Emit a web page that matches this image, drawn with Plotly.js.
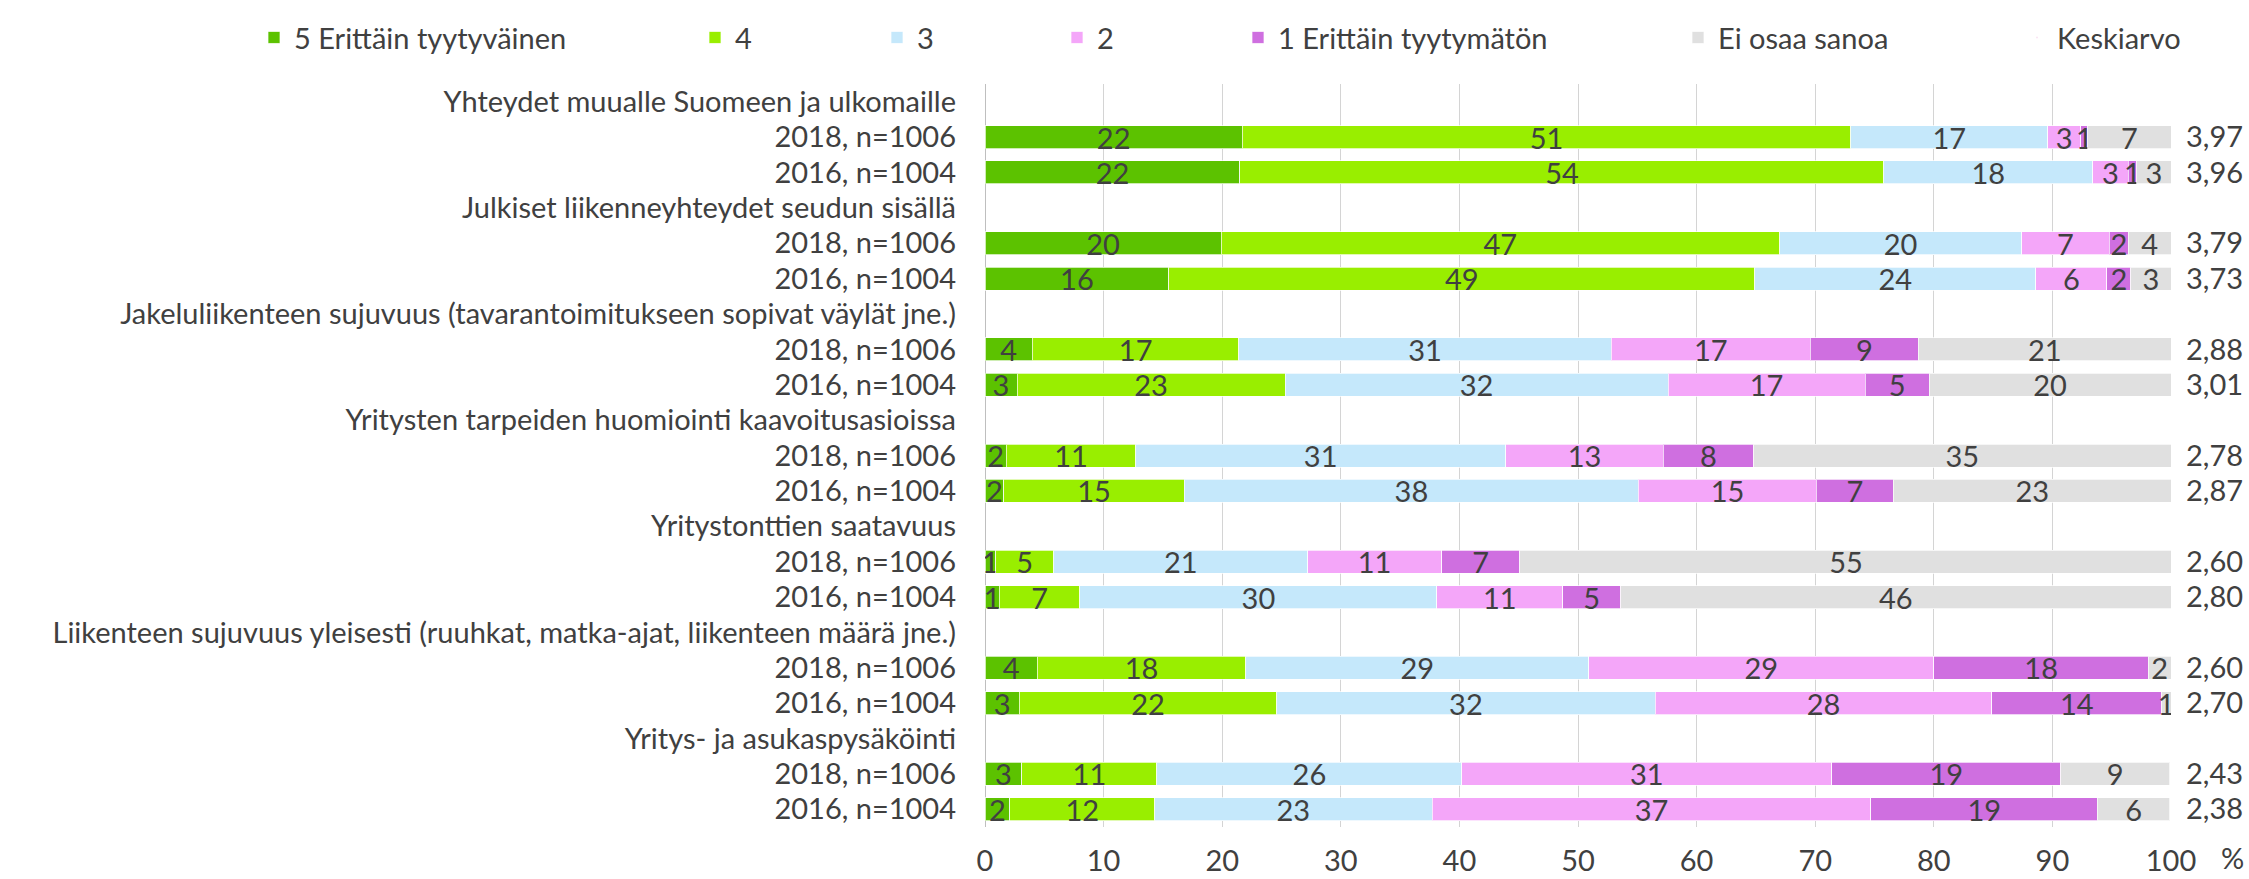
<!DOCTYPE html>
<html>
<head>
<meta charset="utf-8">
<script src="https://cdn.plot.ly/plotly-3.0.1.min.js"></script>
<style>html,body{margin:0;padding:0;background:#fff;}#chart{width:2249px;height:879px;}</style>
</head>
<body>
<div id="chart"></div>
<script>
// ---- data ----
const groups = [
  "Yhteydet muualle Suomeen ja ulkomaille",
  "Julkiset liikenneyhteydet seudun sisällä",
  "Jakeluliikenteen sujuvuus (tavarantoimitukseen sopivat väylät jne.)",
  "Yritysten tarpeiden huomiointi kaavoitusasioissa",
  "Yritystonttien saatavuus",
  "Liikenteen sujuvuus yleisesti (ruuhkat, matka-ajat, liikenteen määrä jne.)",
  "Yritys- ja asukaspysäköinti"
];
const years = ["2018, n=1006", "2016, n=1004"];
const seriesNames = ["5 Erittäin tyytyväinen", "4", "3", "2", "1 Erittäin tyytymätön", "Ei osaa sanoa"];
const meanName = "Keskiarvo";
// values in data-row order: group1 2018, group1 2016, group2 2018, ...
const v5  = [21.7, 21.5, 19.9, 15.5, 4.0, 2.7, 1.8, 1.6, 0.9, 1.2, 4.4, 2.9, 3.1, 2.1];
const v4  = [51.3, 54.3, 47.1, 49.4, 17.4, 22.6, 10.9, 15.2, 4.9, 6.8, 17.6, 21.7, 11.4, 12.2];
const v3  = [16.6, 17.6, 20.4, 23.7, 31.4, 32.3, 31.2, 38.3, 21.4, 30.1, 28.9, 31.9, 25.7, 23.4];
const v2  = [2.8, 3.0, 7.4, 6.0, 16.8, 16.6, 13.3, 15.0, 11.3, 10.6, 29.1, 28.4, 31.2, 37.0];
const v1  = [0.6, 0.7, 1.6, 2.0, 9.1, 5.4, 7.6, 6.5, 6.6, 4.9, 18.1, 14.3, 19.3, 19.1];
const vEos = [7.0, 2.9, 3.6, 3.4, 21.3, 20.4, 35.2, 23.4, 55.0, 46.4, 1.9, 0.8, 9.2, 6.1];
const means = [3.97, 3.96, 3.79, 3.73, 2.88, 3.01, 2.78, 2.87, 2.60, 2.80, 2.60, 2.70, 2.43, 2.38];
const colors = ["#5cc200", "#99ee00", "#c5e8fb", "#f4a6f9", "#cf6fe0", "#e0e0e0"];

// ---- build rows ----
const rowLabels = [];
const dataRowIdx = [];
groups.forEach(g => {
  rowLabels.push(g);
  years.forEach(y => { dataRowIdx.push(rowLabels.length); rowLabels.push(y); });
});
const allRowIdx = rowLabels.map((_, i) => i);
const seriesVals = [v5, v4, v3, v2, v1, vEos];

const FONT = "Lato, 'Open Sans', sans-serif";
const TXT = "#404040";
const FS = 29;

const traces = seriesVals.map((vals, s) => ({
  type: "bar",
  orientation: "h",
  name: seriesNames[s],
  x: vals,
  y: dataRowIdx,
  text: vals.map(v => String(Math.round(v))),
  textposition: "inside",
  insidetextanchor: "middle",
  textangle: 0,
  constraintext: "none",
  textfont: {family: FONT, size: FS, color: TXT},
  marker: {color: colors[s], line: {color: "rgba(255,255,255,0.7)", width: 1}},
  hoverinfo: "skip",
  legend: s === 0 ? "legend" : "legend" + (s + 1)
}));
traces.push({
  type: "scatter",
  mode: "markers",
  name: meanName,
  x: means,
  y: dataRowIdx,
  yaxis: "y2",
  marker: {opacity: 0, size: 1},
  hoverinfo: "skip",
  legend: "legend7"
});

// ---- layout ----
const W = 2249, H = 879;
const plotL = 985, plotR = 2171, plotT = 74, plotB = 827;
const pw = plotR - plotL, ph = plotB - plotT;
const px2x = p => (p - plotL) / pw;
const legendY = 1 + (plotT - 27) / ph;
const legendTextStarts = [294, 735, 917, 1097, 1278, 1718, 2057];
const layout = {
  width: W, height: H,
  paper_bgcolor: "#ffffff", plot_bgcolor: "#ffffff",
  margin: {l: plotL, r: W - plotR, t: plotT, b: H - plotB, pad: 0},
  barmode: "stack",
  bargap: 0.35,
  font: {family: FONT, size: FS, color: TXT},
  uniformtext: {mode: "show", minsize: FS},
  showlegend: true,
  xaxis: {
    range: [0, 100], dtick: 10, tick0: 0,
    showgrid: true, gridcolor: "#d4d4d4", gridwidth: 1,
    zeroline: true, zerolinecolor: "#bfbfbf", zerolinewidth: 1,
    showline: false, ticks: "", ticklabelstandoff: 14,
    tickfont: {family: FONT, size: FS, color: TXT},
    fixedrange: true
  },
  yaxis: {
    range: [rowLabels.length - 0.5, -0.5],
    tickmode: "array", tickvals: allRowIdx, ticktext: rowLabels,
    showgrid: false, zeroline: false, showline: false, ticks: "",
    ticklabelstandoff: 28,
    tickfont: {family: FONT, size: FS, color: TXT},
    fixedrange: true
  },
  yaxis2: {
    overlaying: "y", side: "right", anchor: "x",
    range: [rowLabels.length - 0.5, -0.5],
    tickmode: "array", tickvals: dataRowIdx, ticktext: means.map(m => m.toFixed(2).replace(".", ",")),
    showgrid: false, zeroline: false, showline: false, ticks: "",
    ticklabelstandoff: 14,
    tickfont: {family: FONT, size: FS, color: TXT},
    fixedrange: true
  },
  annotations: [{
    text: "%", xref: "paper", yref: "paper",
    x: px2x(2232), y: -(878 - plotB) / ph, xanchor: "center", yanchor: "bottom",
    showarrow: false, font: {family: FONT, size: FS, color: TXT}
  }]
};
legendTextStarts.forEach((p, i) => {
  const key = i === 0 ? "legend" : "legend" + (i + 1);
  layout[key] = {
    x: px2x(p - 40), y: legendY, xanchor: "left", yanchor: "middle",
    orientation: "h", bgcolor: "rgba(0,0,0,0)", borderwidth: 0,
    font: {family: FONT, size: FS, color: TXT}
  };
});

Plotly.newPlot("chart", traces, layout, {displayModeBar: false, staticPlot: true});
</script>
</body>
</html>
